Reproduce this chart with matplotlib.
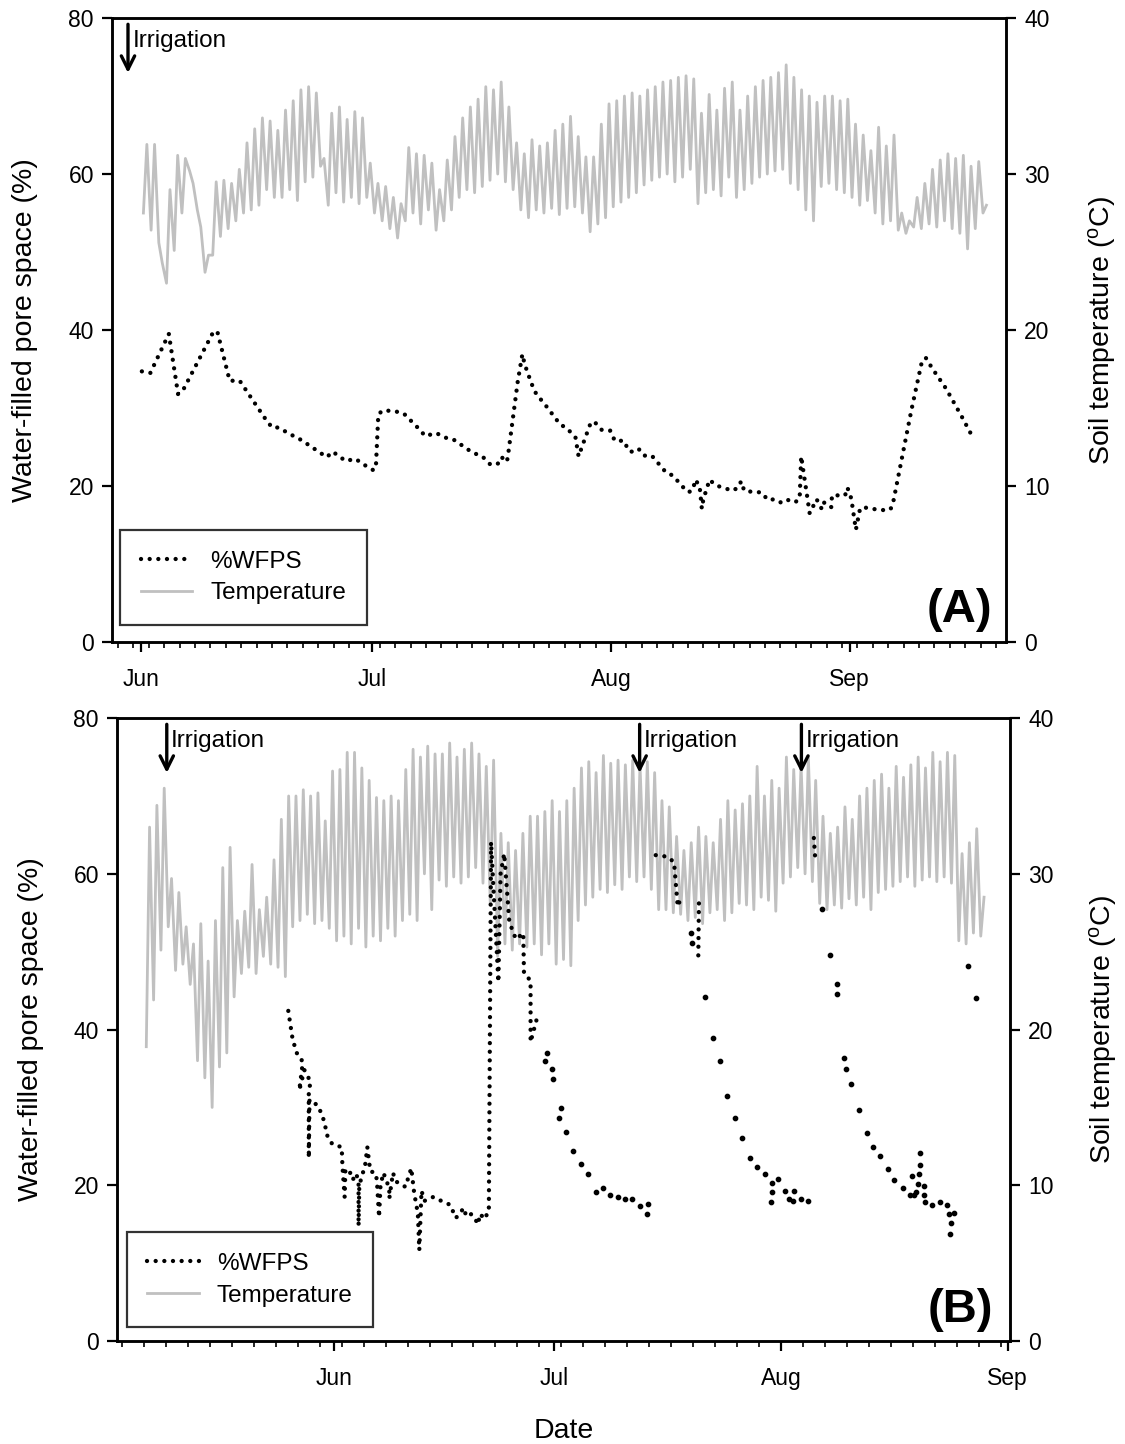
import datetime as dt

import numpy as np
import matplotlib
matplotlib.use("Agg")
import matplotlib.pyplot as plt
import matplotlib.dates as mdates
import matplotlib.transforms as mtransforms
from matplotlib.lines import Line2D

plt.rcParams['font.family'] = ['Liberation Sans', 'DejaVu Sans']

# ---- data (days counted from 1 June) ----
# Panel A: %WFPS
a_wfps_day = [0.1, 1.2, 3.6, 4.8, 5.4, 9.4, 9.9, 11.5, 12.8, 16.0, 17.0, 17.8, 20.0, 20.8,
              22.9, 24.1, 24.9, 25.7, 26.6, 27.8, 29.0, 30.2, 30.5, 30.8, 31.4, 32.9, 34.1,
              36.0, 36.9, 38.3, 39.5, 40.5, 43.0, 44.3, 45.4, 46.4, 46.8, 47.5, 47.7, 48.9,
              49.5, 49.8, 50.7, 51.3, 52.4, 54.4, 55.3, 56.4, 56.8, 57.3, 58.3, 58.8, 59.8,
              60.9, 61.5, 62.7, 63.3, 64.2, 64.7, 65.4, 66.3, 68.1, 69.1, 70.2, 71.1, 71.7,
              71.9, 72.5, 72.8, 73.0, 73.8, 74.6, 75.5, 76.8, 77.5, 77.9, 78.3, 79.7, 80.5,
              81.4, 82.2, 83.0, 83.7, 84.9, 85.5, 85.7, 86.8, 87.7, 88.4, 88.7, 89.6, 89.7,
              91.4, 91.7, 92.2, 92.8, 93.3, 93.6, 94.8, 96.1, 97.3, 97.7, 100.0, 101.4,
              101.9, 102.7, 104.5, 106.6, 108.0]
a_wfps_val = [34.7, 34.5, 39.5, 31.8, 32.2, 39.8, 39.8, 33.5, 33.5, 28.8, 27.5, 27.5, 26.3, 25.9,
              24.5, 23.7, 24.4, 23.8, 23.2, 23.5, 22.7, 22.0, 22.8, 29.2, 29.7, 29.6, 29.3,
              27.4, 26.4, 26.8, 26.2, 26.0, 24.3, 23.8, 22.7, 22.9, 23.7, 23.1, 24.4, 33.4,
              36.9, 35.6, 33.1, 31.8, 30.5, 27.9, 27.4, 26.2, 23.8, 25.2, 27.9, 28.3, 27.2,
              27.1, 25.8, 25.8, 24.5, 24.3, 24.7, 23.9, 23.9, 21.8, 21.3, 20.0, 19.2, 19.6,
              20.8, 20.1, 17.1, 18.3, 20.8, 20.1, 19.8, 19.4, 19.8, 20.6, 19.4, 19.2, 19.2,
              18.2, 18.3, 17.9, 18.3, 17.9, 18.4, 23.8, 16.5, 18.3, 17.0, 17.9, 17.3, 18.8,
              18.8, 19.8, 18.4, 14.4, 16.9, 17.3, 17.1, 16.9, 17.0, 18.2, 29.7, 36.1,
              36.4, 35.1, 32.5, 28.8, 26.2]

# Panel A: daily soil temperature (morning value, afternoon value), day 0 = 1 June
a_temp_first_day = 0
a_tmin = [27.5, 26.4, 25.6, 23.0, 25.1, 27.5, 30.2, 27.7, 23.7, 24.8,
          26.0, 26.5, 27.0, 27.5, 27.7, 28.0, 29.0, 28.5, 28.5, 29.0,
          28.3, 29.5, 29.8, 30.5, 28.0, 28.8, 28.2, 28.5, 28.1, 28.5,
          27.5, 27.0, 26.5, 25.9, 27.0, 27.5, 26.8, 27.7, 26.4, 27.0,
          27.7, 28.5, 29.0, 28.8, 29.2, 29.6, 30.0, 29.5, 29.0, 27.7,
          27.2, 27.7, 27.5, 27.8, 27.4, 27.8, 27.9, 27.5, 26.3, 26.8,
          27.2, 27.9, 28.2, 28.5, 28.8, 29.3, 29.6, 29.8, 30.0, 29.5,
          29.8, 30.3, 28.1, 28.8, 29.0, 28.6, 29.8, 28.5, 29.0, 29.4,
          29.8, 30.0, 30.2, 30.3, 29.4, 29.0, 27.7, 27.0, 29.2, 29.4,
          29.0, 28.8, 28.5, 28.0, 28.3, 27.5, 26.8, 27.0, 26.4, 26.2,
          26.6, 26.5, 26.8, 26.6, 27.0, 26.5, 26.2, 25.2, 26.5, 27.5]
a_tmax = [31.9, 31.9, 24.3, 29.0, 31.2, 31.0, 29.4, 26.6, 24.8, 29.5,
          29.6, 29.4, 30.3, 32.0, 32.9, 33.6, 33.4, 32.8, 34.1, 34.7,
          35.4, 35.6, 35.2, 31.0, 33.9, 34.3, 33.5, 34.0, 33.6, 30.7,
          29.4, 29.2, 28.5, 28.1, 31.7, 31.3, 31.2, 30.7, 29.0, 30.9,
          32.4, 33.6, 34.3, 34.8, 35.6, 35.4, 35.9, 34.3, 32.0, 31.3,
          32.2, 31.8, 32.0, 32.8, 33.2, 33.7, 32.4, 31.1, 31.1, 33.2,
          34.5, 34.7, 35.0, 35.2, 35.0, 35.4, 35.6, 35.9, 36.0, 36.2,
          36.3, 36.1, 33.9, 35.1, 34.1, 35.5, 35.9, 34.1, 35.0, 35.6,
          36.0, 36.2, 36.5, 37.0, 36.2, 35.4, 35.0, 34.6, 35.0, 35.0,
          34.7, 34.8, 33.2, 32.5, 31.5, 33.0, 31.8, 32.5, 27.5, 27.0,
          28.5, 29.4, 30.3, 30.9, 31.3, 31.0, 31.2, 30.5, 30.8, 28.0]

# Panel B: %WFPS, dotted runs
b_wfps_runs = [
    ([-6.3, -5.7, -5.0, -4.3, -4.8, -4.1, -3.2, -3.5, -3.5, -3.4, -2.2, -1.3, -1.1, -0.3,
      1.0, 1.1, 1.4, 1.5, 2.0, 2.5, 3.0, 3.3, 3.3, 3.4, 4.2, 4.5, 4.9, 5.6, 5.8, 6.1, 6.3,
      6.7, 7.5, 7.5, 8.0, 8.4, 9.7, 10.5, 10.9, 11.4, 11.6, 11.9, 12.3, 13.5, 14.6, 15.8,
      16.6, 17.7, 18.0, 18.7, 19.7, 19.8, 20.7, 20.9, 21.1, 21.4, 22.4, 22.7, 23.2, 23.9,
      24.8, 25.8, 25.9, 26.8, 26.8, 27.6],
     [42.4, 38.7, 36.6, 35.9, 32.2, 34.8, 33.2, 32.4, 23.5, 31.0, 30.2, 28.0, 26.6, 25.3,
      24.9, 22.4, 18.5, 22.0, 22.0, 20.7, 21.5, 20.2, 14.8, 20.0, 22.6, 24.9, 21.8, 21.6,
      20.7, 15.9, 20.0, 21.6, 19.6, 18.3, 21.6, 20.5, 19.8, 22.2, 19.0, 16.4, 11.7, 19.3,
      18.0, 18.5, 18.0, 17.5, 15.8, 17.1, 16.0, 16.3, 15.0, 16.3, 15.7, 16.9, 17.0, 64.1,
      46.1, 60.0, 62.6, 53.8, 51.6, 52.4, 47.2, 46.3, 38.4, 41.2]),
    ([43.9, 45.5, 46.4, 46.9, 47.5],
     [62.4, 62.2, 61.5, 55.8, 57.3]),
    ([49.8, 49.7], [56.2, 48.5]),
    ([65.5, 65.7], [64.6, 61.8]),
]
# Panel B: %WFPS, isolated readings
b_wfps_pt_day = [28.8, 29.0, 29.7, 29.8, 30.7, 30.9, 31.7, 32.6, 33.7, 34.7, 35.7, 36.7, 37.7,
                 38.7, 39.7, 40.7, 41.7, 42.8, 42.7, 48.7, 48.9,
                 50.6, 51.7, 52.7, 53.7, 54.7, 55.7, 56.8, 57.8, 58.8, 59.8, 60.6, 59.8, 59.7,
                 61.6, 62.1, 62.8, 62.6, 63.7, 64.7,
                 66.6, 67.7, 68.6, 68.7, 69.6, 69.9, 70.6, 71.6, 72.7, 73.6, 74.6, 75.6, 76.5,
                 77.7, 78.7, 78.9, 79.2, 79.5, 79.7, 79.9, 80.0, 80.0, 80.5, 80.6, 80.7, 81.6,
                 82.7, 83.7, 83.9, 84.6, 84.3, 84.1, 86.6, 87.6]
b_wfps_pt_val = [35.9, 37.0, 34.9, 33.7, 28.7, 29.9, 26.9, 24.4, 22.7, 21.5, 19.2, 19.7, 18.7,
                 18.5, 18.2, 18.2, 17.3, 17.6, 16.3, 52.4, 51.1,
                 44.2, 38.9, 36.0, 31.5, 28.7, 26.1, 23.5, 22.4, 21.5, 20.3, 20.8, 19.1, 17.8,
                 19.3, 18.3, 19.3, 18.0, 18.3, 18.0,
                 55.5, 49.6, 45.9, 44.6, 36.3, 35.0, 33.0, 29.7, 26.7, 24.9, 23.7, 22.1, 20.7,
                 19.6, 18.8, 21.2, 18.7, 19.1, 20.2, 21.5, 22.6, 24.1, 19.9, 18.7, 17.9, 17.5,
                 17.8, 17.5, 16.3, 16.5, 15.1, 13.8, 48.1, 44.0]

# Panel B: daily soil temperature (morning value, afternoon value), first day = 6 May
b_temp_first_day = -26
b_tmin = [18.9, 21.9, 25.1, 26.6, 23.8, 24.2, 22.9, 18.0, 16.9, 15.0,
          17.6, 18.5, 22.1, 23.6, 24.0, 23.6, 24.7, 24.2, 24.0, 23.4,
          26.6, 27.0, 27.4, 26.8, 27.0, 26.5, 25.7, 26.0, 25.5, 26.5,
          25.3, 26.0, 25.7, 26.5, 26.0, 27.0, 27.4, 27.0, 30.0, 27.7,
          29.6, 29.2, 29.8, 29.4, 29.8, 30.4, 29.4, 28.0, 24.7, 25.5,
          25.1, 25.5, 25.3, 25.5, 24.8, 25.5, 24.2, 24.5, 24.1, 27.0,
          28.0, 28.5, 29.0, 28.8, 29.3, 29.0, 29.8, 29.5, 29.8, 29.0,
          27.7, 27.7, 27.5, 27.4, 27.0, 27.2, 26.8, 27.5, 27.7, 27.0,
          27.5, 28.1, 28.0, 27.7, 28.5, 28.3, 27.6, 29.4, 29.8, 30.4,
          30.0, 29.5, 28.1, 27.7, 28.0, 27.8, 28.4, 28.0, 28.5, 27.7,
          28.8, 29.0, 29.2, 29.5, 29.8, 29.2, 29.6, 29.8, 29.5, 29.8,
          29.4, 25.7, 25.5, 26.2, 26.0]
b_tmax = [33.0, 34.4, 35.5, 29.7, 28.8, 26.6, 25.5, 26.8, 24.4, 27.0,
          30.4, 31.7, 27.0, 27.6, 30.6, 27.7, 28.5, 30.9, 33.5, 35.0,
          35.0, 35.4, 35.0, 35.2, 33.4, 36.6, 36.7, 37.8, 37.8, 36.8,
          36.0, 34.9, 34.7, 35.0, 34.7, 36.7, 38.0, 37.5, 38.2, 37.7,
          37.7, 38.4, 37.5, 38.0, 38.4, 37.7, 36.9, 37.3, 32.6, 32.0,
          31.5, 32.6, 33.7, 33.7, 34.0, 34.7, 34.0, 34.7, 35.5, 36.8,
          37.2, 36.5, 37.6, 37.1, 37.3, 37.0, 37.3, 37.0, 37.2, 36.5,
          34.7, 34.3, 32.4, 31.5, 32.0, 33.0, 32.4, 32.0, 33.5, 34.7,
          34.1, 34.5, 35.0, 36.9, 35.0, 36.0, 35.5, 37.5, 36.7, 37.0,
          37.5, 36.0, 33.7, 32.6, 33.0, 34.3, 33.5, 35.0, 35.5, 36.0,
          36.4, 35.5, 36.9, 36.2, 37.0, 37.5, 36.8, 37.8, 37.2, 37.8,
          37.6, 31.3, 32.0, 32.9, 28.5]

a_irrigation = [-1.7]
b_irrigation = [-22.9, 41.7, 63.8]

JUN1 = mdates.date2num(dt.datetime(2010, 6, 1))
GRAY = '#c0c0c0'
DOTS = (0, (0.01, 2.0))
DOT_KW = dict(color='black', lw=3.1, linestyle=DOTS, dash_capstyle='round')


def to_date(days):
    return JUN1 + np.asarray(days, dtype=float)


def diurnal(first_day, tmin, tmax):
    # each day: morning reading, then afternoon reading
    k = first_day + np.arange(len(tmin))
    t = np.column_stack([k + 0.3, k + 0.75]).ravel()
    v = np.column_stack([tmin, tmax]).ravel()
    return to_date(t), v


def style_panel(ax, ax2, xlim_days, minor_step):
    ax.set_xlim(to_date(xlim_days))
    ax.set_ylim(0, 80)
    ax2.set_ylim(0, 40)
    ax.set_yticks([0, 20, 40, 60, 80])
    ax2.set_yticks([0, 10, 20, 30, 40])
    ax.xaxis.set_major_locator(mdates.MonthLocator())
    ax.xaxis.set_major_formatter(mdates.DateFormatter('%b'))
    ax.xaxis.set_minor_locator(mdates.DayLocator(interval=minor_step))
    for a in (ax, ax2):
        for s in a.spines.values():
            s.set_linewidth(1.8)
    ax.tick_params(axis='both', which='major', direction='out', length=7, width=1.6,
                   labelsize=16.5, pad=6)
    ax.tick_params(axis='x', which='major', pad=12)
    ax.tick_params(axis='x', which='minor', direction='out', length=4.5, width=1.2)
    ax2.tick_params(axis='y', direction='out', length=7, width=1.6, labelsize=16.5, pad=6)
    ax.set_ylabel('Water-filled pore space (%)', fontsize=20.5)
    ax2.set_ylabel(r'Soil temperature ($\mathregular{^{o}}$C)', fontsize=20.5)
    ax.set_zorder(ax2.get_zorder() + 1)
    ax.patch.set_visible(False)


def add_irrigation(ax, days):
    tr = mtransforms.blended_transform_factory(ax.transData, ax.transAxes)
    for d in days:
        x = to_date(d)
        ax.annotate('', xy=(x, 0.912), xytext=(x, 0.99), xycoords=tr, textcoords=tr,
                    arrowprops=dict(arrowstyle='->', lw=2.4, color='black',
                                    mutation_scale=24, shrinkA=0, shrinkB=0))
        ax.text(x + 0.6, 0.963, 'Irrigation', transform=tr, fontsize=17.5,
                ha='left', va='center')


def add_legend(ax, anchor):
    handles = [Line2D([], [], **DOT_KW),
               Line2D([], [], color=GRAY, lw=2)]
    leg = ax.legend(handles, ['%WFPS', 'Temperature'], loc='lower left',
                    bbox_to_anchor=anchor, fontsize=17.5, frameon=True, fancybox=False,
                    handlelength=2.1, handletextpad=0.75, borderpad=0.85,
                    labelspacing=0.4, borderaxespad=0)
    leg.get_frame().set_edgecolor('black')
    leg.get_frame().set_linewidth(1.6)


fig = plt.figure(figsize=(11.25, 14.44), dpi=100)

# ---------- panel A ----------
axA = fig.add_axes([0.0996, 0.5554, 0.7947, 0.4321])
axA2 = axA.twinx()
t, v = diurnal(a_temp_first_day, a_tmin, a_tmax)
axA2.plot(t, v, color=GRAY, lw=2)
axA.plot(to_date(a_wfps_day), a_wfps_val, **DOT_KW)
style_panel(axA, axA2, [-3.77, 112.3], 2)
add_irrigation(axA, a_irrigation)
add_legend(axA, (0.009, 0.027))
axA.text(0.984, 0.032, '(A)', transform=axA.transAxes, ha='right', va='baseline',
         fontsize=34, fontweight='bold')
axA.yaxis.set_label_coords(-0.083, 0.5)
axA2.yaxis.set_label_coords(1.0895, 0.5)

# ---------- panel B ----------
axB = fig.add_axes([0.104, 0.0713, 0.7938, 0.4314])
axB2 = axB.twinx()
t, v = diurnal(b_temp_first_day, b_tmin, b_tmax)
axB2.plot(t, v, color=GRAY, lw=2)
for days, vals in b_wfps_runs:
    axB.plot(to_date(days), vals, **DOT_KW)
axB.plot(to_date(b_wfps_pt_day), b_wfps_pt_val, linestyle='none', marker='o',
         ms=3.1, color='black')
style_panel(axB, axB2, [-29.7, 92.3], 3)
add_irrigation(axB, b_irrigation)
add_legend(axB, (0.011, 0.022))
axB.text(0.981, 0.03, '(B)', transform=axB.transAxes, ha='right', va='baseline',
         fontsize=34, fontweight='bold')
axB.set_xlabel('Date', fontsize=20.5, labelpad=20)
axB.yaxis.set_label_coords(-0.082, 0.5)
axB2.yaxis.set_label_coords(1.086, 0.5)

fig.savefig('out.png', dpi=100)
